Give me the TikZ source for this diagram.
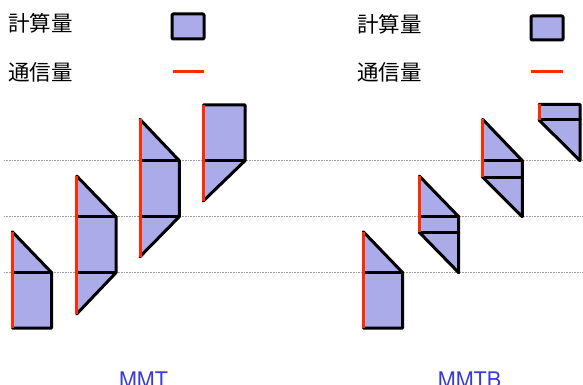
\documentclass[tikz,border=0pt]{standalone}
\usepackage{fontspec}
\setmainfont{TeX Gyre Heros}
\newfontfamily\cjk{Noto Sans CJK JP}
\definecolor{compfill}{HTML}{ABABEA}
\definecolor{commred}{HTML}{FF2A00}
\definecolor{labelblue}{HTML}{3A3AD2}
\tikzset{
  comp/.style={fill=compfill,draw=none},
  edge/.style={draw=black,line width=3pt,line cap=round,line join=round},
  comm/.style={draw=commred,line width=3pt},
  grid/.style={draw=gray!75,line width=1pt,dash pattern=on 0.8pt off 0.8pt},
  legtext/.style={font=\cjk\fontsize{21.5}{24}\selectfont,anchor=west,inner sep=0pt},
  caption/.style={font=\fontsize{21.5}{24}\selectfont,text=labelblue,anchor=base,inner sep=0pt}
}
\begin{document}
\begin{tikzpicture}[x=1pt,y=-1pt]
\useasboundingbox (0,0) rectangle (583,385);
\clip (0,0) rectangle (583,385);
% grid lines
\foreach \yy in {160.7,216.7,272.7} \draw[grid] (4,\yy) -- (583,\yy);
% legend
\node[legtext] (lc1) at (8,23) {計算量};
\node[legtext] (lm1) at (8,72) {通信量};
\draw[edge,comp,draw=black,rounded corners=1pt] (172,14) rectangle (204,39);
\draw[comm] (173,72) -- (204,72);
\node[legtext] (lc2) at (357,24) {計算量};
\node[legtext] (lm2) at (357,72) {通信量};
\draw[edge,comp,draw=black,rounded corners=1pt] (531,16) rectangle (563,40);
\draw[comm] (531,72) -- (563,72);

% ===== MMT =====
% block 1
\fill[comp] (12.3,231.7) -- (51.7,272.7) -- (51.7,328) -- (12.3,328) -- cycle;
\draw[edge] (12.3,231.7) -- (51.7,272.7) -- (51.7,328) -- (12.3,328);
\draw[edge] (12.3,272.7) -- (51.7,272.7);
\draw[comm] (12.3,231.7) -- (12.3,328);
% block 2
\fill[comp] (76.7,176) -- (116,216.7) -- (116,272.7) -- (76.7,314) -- cycle;
\draw[edge] (76.7,176) -- (116,216.7) -- (116,272.7) -- (76.7,314);
\draw[edge] (76.7,216.7) -- (116,216.7);
\draw[edge] (76.7,272.7) -- (116,272.7);
\draw[comm] (76.7,176) -- (76.7,314);
% block 3
\fill[comp] (140,119.3) -- (179.3,160.7) -- (179.3,216.7) -- (140,256.7) -- cycle;
\draw[edge] (140,119.3) -- (179.3,160.7) -- (179.3,216.7) -- (140,256.7);
\draw[edge] (140,160.7) -- (179.3,160.7);
\draw[edge] (140,216.7) -- (179.3,216.7);
\draw[comm] (140,119.3) -- (140,256.7);
% block 4
\fill[comp] (203.3,105) -- (245,105) -- (245,160.7) -- (203.3,201) -- cycle;
\draw[edge] (203.3,105) -- (245,105) -- (245,160.7) -- (203.3,201);
\draw[edge] (203.3,160.7) -- (245,160.7);
\draw[comm] (203.3,105) -- (203.3,201);

% ===== MMTB =====
% block 1
\fill[comp] (363.3,231.7) -- (402.7,272.7) -- (402.7,328) -- (363.3,328) -- cycle;
\draw[edge] (363.3,231.7) -- (402.7,272.7) -- (402.7,328) -- (363.3,328);
\draw[edge] (363.3,272.7) -- (402.7,272.7);
\draw[comm] (363.3,231.7) -- (363.3,328);
% block 2
\fill[comp] (419.3,176) -- (458.7,216.7) -- (458.7,272.7) -- (419.3,232.3) -- cycle;
\draw[edge] (419.3,176) -- (458.7,216.7) -- (458.7,272.7) -- (419.3,232.3);
\draw[edge] (419.3,216.7) -- (458.7,216.7);
\draw[edge] (419.3,232.3) -- (458.7,232.3);
\draw[comm] (419.3,176) -- (419.3,232.3);
% block 3
\fill[comp] (482.7,119.3) -- (522.3,160.7) -- (522.3,216.7) -- (482.7,177.3) -- cycle;
\draw[edge] (482.7,119.3) -- (522.3,160.7) -- (522.3,216.7) -- (482.7,177.3);
\draw[edge] (482.7,160.7) -- (522.3,160.7);
\draw[edge] (482.7,177.3) -- (522.3,177.3);
\draw[comm] (482.7,119.3) -- (482.7,177.3);
% block 4
\fill[comp] (539,104.3) -- (580,104.3) -- (580,160.7) -- (539,120) -- cycle;
\draw[edge] (539,104.3) -- (580,104.3) -- (580,160.7) -- (539,120);
\draw[edge] (539,120) -- (580,120);
\draw[comm] (539,104.3) -- (539,120);

% captions
\node[caption] (mmt) at (143.5,387.5) {MMT};
\node[caption] (mmtb) at (469.5,387.5) {MMTB};
\end{tikzpicture}
\end{document}
